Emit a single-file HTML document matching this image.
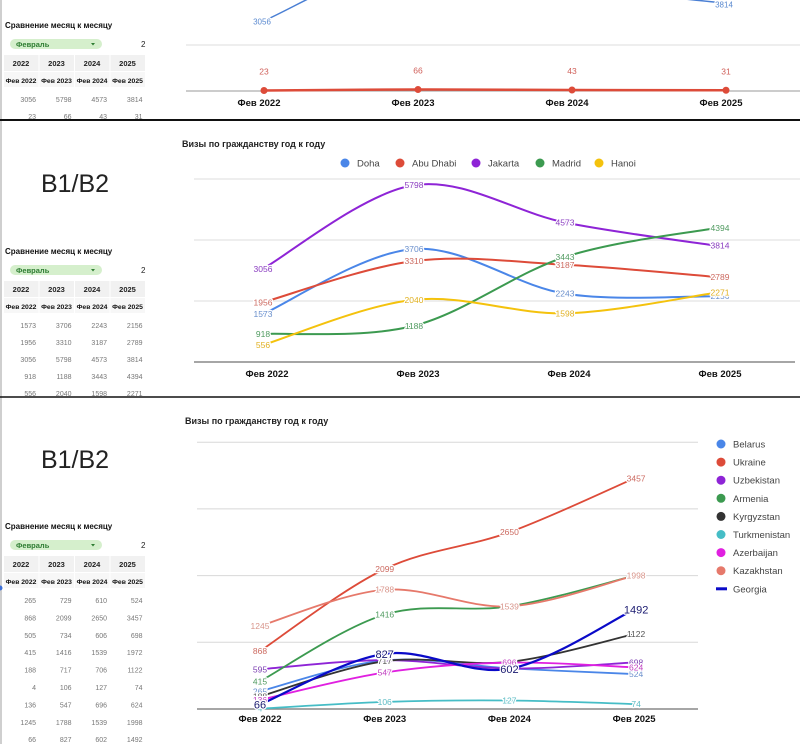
<!DOCTYPE html>
<html><head><meta charset="utf-8">
<style>
html,body{margin:0;padding:0;background:#fff;}
svg{display:block;font-family:"Liberation Sans","Noto Sans CJK SC",sans-serif;}
.lbl{paint-order:stroke;stroke:#fff;stroke-width:2.5px;stroke-linejoin:round;}
</style></head>
<body>
<svg id="root" width="800" height="744" viewBox="0 0 800 744" xmlns="http://www.w3.org/2000/svg">
  <rect x="0" y="0" width="800" height="744" fill="#fff"/>
  <rect x="0" y="0" width="2" height="744" fill="#cfcfcf"/>
  <line x1="0" y1="120" x2="800" y2="120" stroke="#111" stroke-width="2"/>
  <line x1="0" y1="397" x2="800" y2="397" stroke="#111" stroke-width="1.5"/>
  <circle cx="0" cy="588" r="2.5" fill="#3b6fd8"/>
  <text x="75" y="192" text-anchor="middle" font-size="25" font-weight="300" fill="#222">B1/B2</text>
  <text x="75" y="468" text-anchor="middle" font-size="25" font-weight="300" fill="#222">B1/B2</text>
  <text x="182" y="147" font-size="9" font-weight="bold" fill="#222">Визы по гражданству год к году</text>
  <text x="185" y="424" font-size="9" font-weight="bold" fill="#222">Визы по гражданству год к году</text>
  <g id="layer"></g>
</svg>
<script>
// ---------- shared categories ----------
const categories = ['Фев 2022', 'Фев 2023', 'Фев 2024', 'Фев 2025'];
const tableYears = ['2022', '2023', '2024', '2025'];

// ---------- chart 1 (top, partially visible) ----------
const c1Blue = [3056, 5798, 4573, 3814];
const c1Red = [23, 66, 43, 31];
const c1Ticks = [0, 2000];

// ---------- chart 2 (cities) ----------
const c2Names = ['Doha', 'Abu Dhabi', 'Jakarta', 'Madrid', 'Hanoi'];
const c2Doha = [1573, 3706, 2243, 2156];
const c2AbuDhabi = [1956, 3310, 3187, 2789];
const c2Jakarta = [3056, 5798, 4573, 3814];
const c2Madrid = [918, 1188, 3443, 4394];
const c2Hanoi = [556, 2040, 1598, 2271];
const c2Ticks = [0, 2000, 4000, 6000];

// ---------- chart 3 (citizenship) ----------
const c3Names = ['Belarus', 'Ukraine', 'Uzbekistan', 'Armenia', 'Kyrgyzstan', 'Turkmenistan', 'Azerbaijan', 'Kazakhstan', 'Georgia'];
const c3Belarus = [265, 729, 610, 524];
const c3Ukraine = [868, 2099, 2650, 3457];
const c3Uzbekistan = [595, 734, 606, 698];
const c3Armenia = [415, 1416, 1539, 1998];
const c3Kyrgyzstan = [188, 717, 706, 1122];
const c3Turkmenistan = [4, 106, 127, 74];
const c3Azerbaijan = [136, 547, 696, 624];
const c3Kazakhstan = [1245, 1788, 1539, 1998];
const c3Georgia = [66, 827, 602, 1492];
const c3Ticks = [0, 1000, 2000, 3000, 4000];

// ---------- tables ----------
const t1Rows = [[3056, 5798, 4573, 3814], [23, 66, 43, 31]];
const t2Rows = [c2Doha, c2AbuDhabi, c2Jakarta, c2Madrid, c2Hanoi];
const t3Rows = [[265, 729, 610, 524], [868, 2099, 2650, 3457], [505, 734, 606, 698], [415, 1416, 1539, 1972], [188, 717, 706, 1122], [4, 106, 127, 74], [136, 547, 696, 624], [1245, 1788, 1539, 1998], [66, 827, 602, 1492]];

const NS = 'http://www.w3.org/2000/svg';
const layer = document.getElementById('layer');
function mk(tag, attrs, parent) {
  const e = document.createElementNS(NS, tag);
  for (const k in attrs) e.setAttribute(k, attrs[k]);
  (parent || layer).appendChild(e);
  return e;
}
function txt(x, y, s, attrs, parent) {
  const e = mk('text', Object.assign({x: x, y: y}, attrs), parent);
  e.textContent = s;
  return e;
}
function smoothPath(pts) {
  let d = 'M' + pts[0][0] + ',' + pts[0][1];
  const t = 0.5;
  for (let i = 0; i < pts.length - 1; i++) {
    const p0 = pts[Math.max(0, i - 1)], p1 = pts[i], p2 = pts[i + 1], p3 = pts[Math.min(pts.length - 1, i + 2)];
    const c1x = p1[0] + (p2[0] - p0[0]) * t / 3, c1y = p1[1] + (p2[1] - p0[1]) * t / 3;
    const c2x = p2[0] - (p3[0] - p1[0]) * t / 3, c2y = p2[1] - (p3[1] - p1[1]) * t / 3;
    d += ' C' + c1x + ',' + c1y + ' ' + c2x + ',' + c2y + ' ' + p2[0] + ',' + p2[1];
  }
  return d;
}
function makeAxes(x0, step, base, pxPerUnit) {
  return {x: i => x0 + i * step, y: v => base - v * pxPerUnit};
}

// ================= CHART 1 =================
(function () {
  const g = mk('g', {});
  
  
  const ax = makeAxes(264, 154, 91, 46 / 2000);
  c1Ticks.forEach(t => {
    const l = mk('line', {x1: 186, x2: 800, y1: ax.y(t), y2: ax.y(t), stroke: t === 0 ? '#999' : '#ddd', 'stroke-width': 1}, g);
    
    
  });
  const bp = mk('path', {d: smoothPath(c1Blue.map((v, i) => [ax.x(i), ax.y(v)])), fill: 'none', stroke: '#4a7fd4', 'stroke-width': 1.5}, g);
  
  
  [0, 3].forEach(i => {
    const lb = txt(ax.x(i) - 2, ax.y(c1Blue[i]) + 4, String(c1Blue[i]), {'font-size': 8, fill: '#5b8ad0', 'text-anchor': 'middle', class: 'lbl'}, g);
    
    
  });
  const rp = mk('path', {d: smoothPath(c1Red.map((v, i) => [ax.x(i), ax.y(v)])), fill: 'none', stroke: '#dd4b39', 'stroke-width': 2.5}, g);
  
  
  c1Red.forEach((v, i) => {
    const c = mk('circle', {cx: ax.x(i), cy: ax.y(v), r: 3.5, fill: '#dd4b39'}, g);
    
    
    const lb = txt(ax.x(i), ax.y(v) - 16, String(v), {'font-size': 8.5, fill: '#d0605a', 'text-anchor': 'middle'}, g);
    
    
  });
  categories.forEach((c, i) => {
    const lb = txt(ax.x(i) - 5, 106, c, {'font-size': 9.5, 'font-weight': 'bold', fill: '#111', 'text-anchor': 'middle'}, g);
    
    
  });
})();

// ================= CHART 2 =================
(function () {
  const g = mk('g', {});
  
  
  const ax = makeAxes(263, 151, 362, 61 / 2000);
  c2Ticks.forEach(t => {
    const l = mk('line', {x1: 194, x2: t === 0 ? 795 : 800, y1: ax.y(t), y2: ax.y(t), stroke: t === 0 ? '#888' : '#ddd', 'stroke-width': t === 0 ? 1.5 : 1}, g);
    
    
  });
  const series = [c2Doha, c2AbuDhabi, c2Jakarta, c2Madrid, c2Hanoi];
  const colors = ['#4a86e8', '#dd4b39', '#8e24d6', '#3c9a50', '#f4c20d'];
  const labelColors = ['#6a8fcc', '#cc6a60', '#8a3cc0', '#4f9a5f', '#e0b020'];
  const legX = [345, 400, 476, 540, 599];
  series.forEach((s, k) => {
    const p = mk('path', {d: smoothPath(s.map((v, i) => [ax.x(i), ax.y(v)])), fill: 'none', stroke: colors[k], 'stroke-width': 2}, g);
    
    
  });
  series.forEach((s, k) => {
    s.forEach((v, i) => {
      const lb = txt(ax.x(i) + (i === 3 ? 4 : 0), ax.y(v) + 3, String(v), {'font-size': 8.5, fill: labelColors[k], 'text-anchor': 'middle', class: 'lbl'}, g);
      
      
    });
    const lc = mk('circle', {cx: legX[k], cy: 163, r: 4.5, fill: colors[k]}, g);
    
    
    const lt = txt(legX[k] + 12, 166.5, c2Names[k], {'font-size': 9.5, fill: '#444'}, g);
    
    
  });
  categories.forEach((c, i) => {
    const lb = txt(ax.x(i) + 4, 377, c, {'font-size': 9.5, 'font-weight': 'bold', fill: '#111', 'text-anchor': 'middle'}, g);
    
    
  });
})();

// ================= CHART 3 =================
(function () {
  const g = mk('g', {});
  
  
  const ax = makeAxes(260, 124.7, 709, 66.7 / 1000);
  c3Ticks.forEach(t => {
    const l = mk('line', {x1: 197, x2: 698, y1: ax.y(t), y2: ax.y(t), stroke: t === 0 ? '#888' : '#d8d8d8', 'stroke-width': t === 0 ? 1.5 : 1}, g);
    
    
  });
  const series = [c3Belarus, c3Ukraine, c3Uzbekistan, c3Armenia, c3Kyrgyzstan, c3Turkmenistan, c3Azerbaijan, c3Kazakhstan, c3Georgia];
  const colors = ['#4a86e8', '#dd4b39', '#8e24d6', '#3c9a50', '#333333', '#46bdc6', '#e020e0', '#e6796b', '#0a0ac8'];
  const labelColors = ['#6a8fcc', '#cc6a60', '#7a3cb0', '#4f9a5f', '#555', '#5cbcc4', '#c040c0', '#d8968c', '#1a1a70'];
  series.forEach((s, k) => {
    const p = mk('path', {d: smoothPath(s.map((v, i) => [ax.x(i), ax.y(v)])), fill: 'none', stroke: colors[k], 'stroke-width': k === 8 ? 2.2 : 1.8}, g);
    
    
  });
  series.forEach((s, k) => {
    s.forEach((v, i) => {
      const big = k === 8;
      const lb = txt(ax.x(i) + (i === 3 ? 2 : 0), ax.y(v) + (big ? 4 : 3), String(v), {'font-size': big ? 11 : 8.5, fill: labelColors[k], 'text-anchor': 'middle', class: 'lbl'}, g);
      
      
    });
    const ly = 444 + k * 18.1;
    if (k === 8) {
      const lm = mk('rect', {x: 716, y: ly - 1.5, width: 11, height: 3, fill: colors[k]}, g);
      
      
    } else {
      const lm = mk('circle', {cx: 721, cy: ly, r: 4.5, fill: colors[k]}, g);
      
      
    }
    const lt = txt(733, ly + 3.5, c3Names[k], {'font-size': 9.5, fill: '#444'}, g);
    
    
  });
  categories.forEach((c, i) => {
    const lb = txt(ax.x(i), 722, c, {'font-size': 9.5, 'font-weight': 'bold', fill: '#111', 'text-anchor': 'middle'}, g);
    
    
  });
})();

// ================= TABLES =================
function drawTable(name, titleY, rows, rowStep) {
  const g = mk('g', {});
  
  
  const t = txt(5, titleY, 'Сравнение месяц к месяцу', {'font-size': 8, 'font-weight': 'bold', fill: '#111'}, g);
  
  
  const dd = mk('rect', {x: 10, y: titleY + 11, width: 92, height: 10, rx: 5, fill: '#d5efcc'}, g);
  
  
  const dt = txt(16, titleY + 19, 'Февраль', {'font-size': 7.5, 'font-weight': 'bold', fill: '#2e7d32'}, g);
  
  
  const arr = mk('path', {d: 'M91,' + (titleY + 15) + ' l4,0 l-2,2.5 z', fill: '#2e7d32'}, g);
  
  
  const two = txt(141, titleY + 19, '2', {'font-size': 8, fill: '#222'}, g);
  
  
  const cellX = [4, 39.5, 75, 110.5];
  const hy = titleY + 27;
  for (let c = 0; c < 4; c++) {
    const r1 = mk('rect', {x: cellX[c], y: hy, width: 34.5, height: 16, fill: '#f1f1f1'}, g);
    
    
    const h1 = txt(cellX[c] + 17, hy + 11, tableYears[c], {'font-size': 7.5, 'font-weight': 'bold', fill: '#222', 'text-anchor': 'middle'}, g);
    
    
    const r2 = mk('rect', {x: cellX[c], y: hy + 17, width: 34.5, height: 15, fill: '#f7f7f7'}, g);
    
    
    const h2 = txt(cellX[c] + 17, hy + 28, categories[c], {'font-size': 6.8, 'font-weight': 'bold', fill: '#111', 'text-anchor': 'middle'}, g);
    
    
  }
  rows.forEach((row, r) => {
    row.forEach((v, c) => {
      const d = txt(cellX[c] + 32, hy + 47 + r * rowStep, String(v), {'font-size': 7, fill: '#777', 'text-anchor': 'end'}, g);
      
      
    });
  });
}
drawTable('comparison-table-top', 28, t1Rows, 17);
drawTable('comparison-table-cities', 254, t2Rows, 17);
drawTable('comparison-table-citizenship', 529, t3Rows, 17.4);
</script>
</body></html>
